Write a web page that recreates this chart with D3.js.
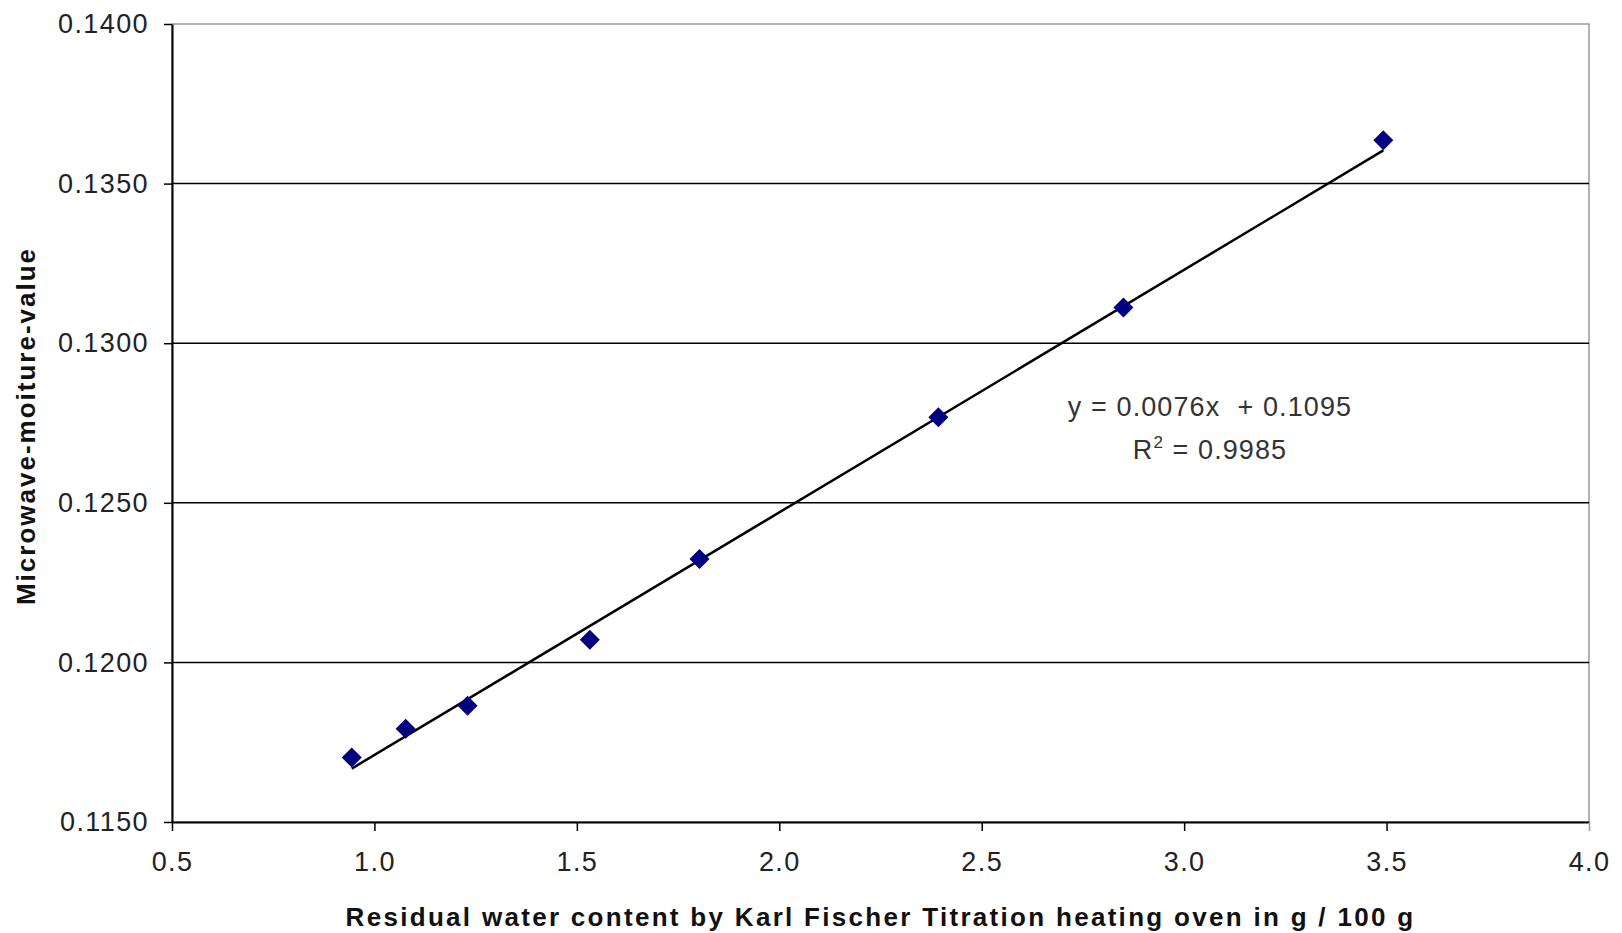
<!DOCTYPE html>
<html>
<head>
<meta charset="utf-8">
<script src="https://cdn.jsdelivr.net/npm/d3@7"></script>
<style>
  body { margin: 0; background: #fff; }
  text { font-family: Arial, "Liberation Sans", sans-serif; }
</style>
</head>
<body>
<div id="chart"></div>
<script>
const width = 1622;
const height = 933;

// residual water content (g / 100 g) and microwave moisture value
const water = [0.944, 1.077, 1.230, 1.532, 1.803, 2.393, 2.850, 3.492];
const moisture = [0.11702, 0.11792, 0.11864, 0.12071, 0.12324, 0.12768, 0.13112, 0.13636];
const xTicks = [0.5, 1.0, 1.5, 2.0, 2.5, 3.0, 3.5, 4.0];
const yTicks = [0.1150, 0.1200, 0.1250, 0.1300, 0.1350, 0.1400];
const slope = 0.0076;
const intercept = 0.1095;
const eqLabel = "y = 0.0076x  + 0.1095";
const r2Value = "0.9985";

const margin = {top: 24, right: 33, bottom: 111, left: 172};

const x = d3.scaleLinear().domain([0.5, 4.0]).range([margin.left, width - margin.right]);
const y = d3.scaleLinear().domain([0.115, 0.14]).range([height - margin.bottom, margin.top]);

const svg = d3.select("#chart").append("svg")
  .attr("width", width)
  .attr("height", height);

// plot area border (grey, like excel)
svg.append("rect")
  .attr("x", x(0.5)).attr("y", y(0.14))
  .attr("width", x(4.0) - x(0.5)).attr("height", y(0.115) - y(0.14))
  .attr("fill", "none").attr("stroke", "#999").attr("stroke-width", 1.5);

// gridlines
svg.append("g").selectAll("line")
  .data(yTicks.slice(1, -1))
  .join("line")
  .attr("x1", x(0.5)).attr("x2", x(4.0))
  .attr("y1", d => y(d)).attr("y2", d => y(d))
  .attr("stroke", "#000").attr("stroke-width", 1.5);

const yAxis = svg.append("g")
  .attr("transform", `translate(${margin.left},0)`)
  .call(d3.axisLeft(y).tickValues(yTicks).tickFormat(d3.format(".4f")).tickSizeInner(8).tickSizeOuter(0).tickPadding(15));

const xAxis = svg.append("g")
  .attr("transform", `translate(0,${height - margin.bottom})`)
  .call(d3.axisBottom(x).tickValues(xTicks).tickFormat(d3.format(".1f")).tickSizeInner(9).tickSizeOuter(0).tickPadding(21));

[xAxis, yAxis].forEach(a => {
  a.select(".domain").attr("stroke", "#000").attr("stroke-width", 2);
  a.selectAll(".tick line").attr("stroke", "#000").attr("stroke-width", 1.5);
  a.selectAll("text").attr("font-size", 27).attr("fill", "#222")
    .attr("letter-spacing", 1.4)
    .style("font-family", "Arial, 'Liberation Sans', sans-serif");
});
xAxis.select(".tick:last-of-type line").attr("stroke", "#999");

// trend line
const xMin = d3.min(water), xMax = d3.max(water);
svg.append("line")
  .attr("x1", x(xMin)).attr("y1", y(slope * xMin + intercept))
  .attr("x2", x(xMax)).attr("y2", y(slope * xMax + intercept))
  .attr("stroke", "#000").attr("stroke-width", 2.5);

// points
const diamond = d3.symbol().type(d3.symbolSquare).size(200);
svg.append("g").selectAll("path")
  .data(water.map((w, i) => [w, moisture[i]]))
  .join("path")
  .attr("d", diamond)
  .attr("transform", d => `translate(${x(d[0])},${y(d[1])}) rotate(45)`)
  .attr("fill", "#000080");

// equation
const eq = svg.append("g").attr("fill", "#333").attr("font-size", 27).attr("letter-spacing", 1.1);
eq.append("text")
  .attr("x", 1210).attr("y", 416)
  .attr("text-anchor", "middle")
  .style("white-space", "pre")
  .text(eqLabel);
const r2 = eq.append("text")
  .attr("x", 1210).attr("y", 459)
  .attr("text-anchor", "middle");
r2.append("tspan").text("R");
r2.append("tspan").attr("font-size", 17).attr("dy", -11).text("2");
r2.append("tspan").attr("dy", 11).text(" = " + r2Value);

// axis titles
svg.append("text")
  .attr("x", (x(0.5) + x(4.0)) / 2).attr("y", 926)
  .attr("text-anchor", "middle")
  .attr("font-size", 26).attr("font-weight", "bold").attr("fill", "#111")
  .attr("letter-spacing", 2.3)
  .text("Residual water content by Karl Fischer Titration heating oven in g / 100 g");

svg.append("text")
  .attr("transform", `translate(35,${(y(0.115) + y(0.14)) / 2 + 3}) rotate(-90)`)
  .attr("text-anchor", "middle")
  .attr("font-size", 26).attr("font-weight", "bold").attr("fill", "#111")
  .attr("letter-spacing", 2)
  .text("Microwave-moiture-value");
</script>
</body>
</html>
